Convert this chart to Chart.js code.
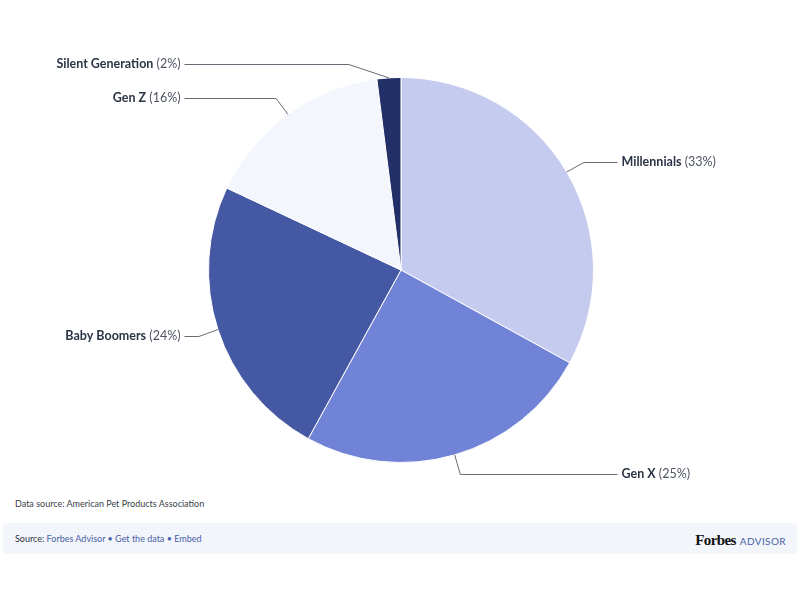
<!DOCTYPE html>
<html>
<head>
<meta charset="utf-8">
<script src="https://cdn.jsdelivr.net/npm/chart.js@4"></script>
<style>
  html, body { margin: 0; padding: 0; background: #ffffff; width: 800px; height: 600px; overflow: hidden; font-family: Lato, "Open Sans", sans-serif; }
  #wrap { position: absolute; left: 0; top: 0; width: 800px; height: 490px; }
  #note { position: absolute; left: 15px; top: 498px; font-size: 9px; color: #3a3f4a; }
  #foot { position: absolute; left: 3px; top: 523px; width: 794px; height: 31px; background: #f2f5fa; border-radius: 3px; }
  #src { position: absolute; left: 12px; top: 10px; font-size: 9px; color: #2c3344; }
  #src span { color: #4a5ea8; }
  #logo { position: absolute; right: 11px; top: 6px; white-space: nowrap; }
  #logo .f { font-family: "Liberation Serif", "DejaVu Serif", serif; font-weight: bold; font-size: 15px; color: #111; letter-spacing: -0.6px; }
  #logo .a { font-size: 10px; color: #4a5ea8; letter-spacing: 0.4px; margin-left: 4px; }
</style>
</head>
<body>
<div id="wrap"><canvas id="c" width="800" height="490"></canvas></div>
<div id="note">Data source: American Pet Products Association</div>
<div id="foot">
  <div id="src">Source: <span>Forbes Advisor • Get the data • Embed</span></div>
  <div id="logo"><span class="f">Forbes</span><span class="a">ADVISOR</span></div>
</div>
<script>
const categories = ["Millennials", "Gen X", "Baby Boomers", "Gen Z", "Silent Generation"];
const shares = [33, 25, 24, 16, 2];
const sliceColors = ["#c5cbef", "#7083d6", "#4558a4", "#f3f6fd", "#233068"];

const labelPlugin = {
  id: "pieLabels",
  afterDraw(chart) {
    const ctx = chart.ctx;
    const meta = chart.getDatasetMeta(0);
    const dist = 20;
    const minY = 64;
    ctx.save();
    meta.data.forEach((arc, i) => {
      const p = arc.getProps(["x", "y", "startAngle", "endAngle", "outerRadius"], true);
      const cx = p.x, cy = p.y, r = p.outerRadius;
      const mid = (p.startAngle + p.endAngle) / 2;
      const right = Math.cos(mid) >= 0;
      const R = r + dist;
      let ly = cy + R * Math.sin(mid);
      if (ly < minY) ly = minY;
      const dy = ly - cy;
      const bx = cx + (right ? 1 : -1) * Math.sqrt(Math.max(R * R - dy * dy, 0));
      const tx = cx + r * Math.cos(mid);
      const ty = cy + r * Math.sin(mid);
      const ax = cx + (right ? 1 : -1) * (R + 4);
      ctx.strokeStyle = "#666b75";
      ctx.lineWidth = 1;
      ctx.beginPath();
      ctx.moveTo(ax, Math.round(ly) + 0.5);
      ctx.lineTo(bx, Math.round(ly) + 0.5);
      ctx.lineTo(tx, ty);
      ctx.stroke();

      const boldTxt = categories[i];
      const normTxt = " (" + shares[i] + "%)";
      ctx.textBaseline = "middle";
      ctx.font = "bold 12.5px Lato, sans-serif";
      const wb = ctx.measureText(boldTxt).width;
      ctx.font = "12.5px Lato, sans-serif";
      const wn = ctx.measureText(normTxt).width;
      const start = right ? ax + 4 : ax - 4 - wb - wn;
      ctx.textAlign = "left";
      ctx.font = "bold 12.5px Lato, sans-serif";
      ctx.fillStyle = "#2b3446";
      ctx.fillText(boldTxt, start, ly);
      ctx.font = "12.5px Lato, sans-serif";
      ctx.fillStyle = "#4d5462";
      ctx.fillText(normTxt, start + wb, ly);
    });
    ctx.restore();
  }
};

new Chart(document.getElementById("c"), {
  type: "pie",
  data: {
    labels: categories,
    datasets: [{
      data: shares,
      backgroundColor: sliceColors,
      borderColor: "#ffffff",
      borderWidth: 1
    }]
  },
  options: {
    responsive: false,
    animation: false,
    layout: { padding: { left: 208, right: 206, top: 77, bottom: 27 } },
    plugins: { legend: { display: false }, tooltip: { enabled: false } }
  },
  plugins: [labelPlugin]
});
</script>
</body>
</html>
